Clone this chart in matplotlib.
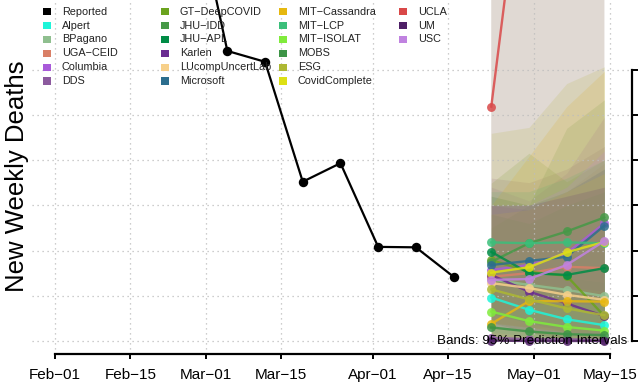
import matplotlib
matplotlib.use("Agg")
import matplotlib.pyplot as plt
import pandas as pd
import numpy as np
from matplotlib.patches import Rectangle

plt.rcParams['font.family'] = ['Liberation Sans', 'DejaVu Sans']

# ---------------- data ----------------
origin = pd.Timestamp("2021-02-01")
tick_dates = ["2021-02-01", "2021-02-15", "2021-03-01", "2021-03-15",
              "2021-04-01", "2021-04-15", "2021-05-01", "2021-05-15"]
tick_labels = ["Feb\u221201", "Feb\u221215", "Mar\u221201", "Mar\u221215",
               "Apr\u221201", "Apr\u221215", "May\u221201", "May\u221215"]
y_ticks = [0, 100, 200, 300, 400, 500, 600]

reported_dates = ["2021-02-19", "2021-02-26", "2021-03-05", "2021-03-12", "2021-03-19",
                  "2021-03-26", "2021-04-02", "2021-04-09", "2021-04-16"]
reported_vals = [1450, 1025, 641, 617, 352, 393, 208, 207, 142]

forecast_dates = ["2021-04-23", "2021-04-30", "2021-05-07", "2021-05-14"]

models = ["Alpert", "BPagano", "UGA\u2212CEID", "Columbia", "DDS",
          "GT\u2212DeepCOVID", "JHU\u2212IDD", "JHU\u2212APL", "Karlen", "LUcompUncertLab",
          "Microsoft", "MIT\u2212Cassandra", "MIT\u2212LCP", "MIT\u2212ISOLAT", "MOBS",
          "ESG", "CovidComplete", "UCLA", "UM", "USC"]
model_colors = ["#1EF5D9", "#8FBF8F", "#D97F66", "#A85AD9", "#8C5A9E",
                "#6BA31E", "#469947", "#008C46", "#6A2C91", "#F7D08A",
                "#2C6E8E", "#E6B80F", "#3BBF7A", "#80EB3B", "#3D9446",
                "#ADB833", "#DDE014", "#D94848", "#4E1F66", "#C082E0"]

point_vals = [
    [96, 69, 48, 35],        # Alpert
    [136, 124, 113, 99],     # BPagano
    [142, 150, 164, 161],    # UGA-CEID
    [157, 168, 194, 260],    # Columbia
    [7, 4, 4, 2],            # DDS
    [179, 153, 144, 55],     # GT-DeepCOVID
    [175, 216, 242, 273],    # JHU-IDD
    [197, 150, 146, 161],    # JHU-APL
    [146, 109, 83, 55],      # Karlen
    [128, 117, 102, 91],     # LUcompUncertLab
    [168, 177, 186, 255],    # Microsoft
    [38, 88, 88, 87],        # MIT-Cassandra
    [218, 216, 218, 216],    # MIT-LCP
    [65, 44, 31, 23],        # MIT-ISOLAT
    [30, 21, 15, 13],        # MOBS
    [114, 92, 72, 57],       # ESG
    [151, 163, 196, 219],    # CovidComplete
    [518, 1180, 1500, 1800], # UCLA
    [1, 0, 0, 0],            # UM
    [135, 137, 168, 221],    # USC
]
lower_vals = [
    [20, 10, 5, 0], [0, 0, 0, 0], [40, 30, 20, 10], [40, 30, 30, 20], [0, 0, 0, 0],
    [40, 20, 0, 0], [40, 30, 20, 10], [60, 40, 20, 10], [40, 20, 0, 0], [0, 0, 0, 0],
    [40, 30, 20, 20], [0, 0, 0, 0], [60, 40, 30, 20], [0, 0, 0, 0], [0, 0, 0, 0],
    [0, 0, 0, 0], [40, 30, 20, 20], [60, 80, 80, 80], [0, 0, 0, 0], [30, 20, 20, 10],
]
upper_vals = [
    [180, 160, 140, 130], [900, 1000, 1100, 1200], [320, 300, 330, 393], [340, 310, 371, 495],
    [360, 350, 380, 430], [349, 415, 352, 400], [250, 300, 470, 533], [320, 300, 330, 380],
    [300, 290, 330, 380], [1000, 1200, 1400, 1600], [900, 1000, 1100, 1200], [300, 408, 518, 596],
    [330, 330, 360, 400], [150, 130, 120, 110], [280, 260, 300, 330], [459, 472, 569, 606],
    [280, 290, 330, 370], [1500, 2500, 3000, 3500], [300, 300, 320, 340], [300, 300, 340, 420],
]
band_alpha_wide = 0.09
band_alpha = 0.16

# legend layout (column-major, as in the reference)
legend_cols = [
    ["Reported", "Alpert", "BPagano", "UGA\u2212CEID", "Columbia", "DDS"],
    ["GT\u2212DeepCOVID", "JHU\u2212IDD", "JHU\u2212APL", "Karlen", "LUcompUncertLab", "Microsoft"],
    ["MIT\u2212Cassandra", "MIT\u2212LCP", "MIT\u2212ISOLAT", "MOBS", "ESG", "CovidComplete"],
    ["UCLA", "UM", "USC"],
]

# ---------------- helpers ----------------
def days(ds):
    return np.array([(pd.Timestamp(d) - origin).days for d in ds], dtype=float)

W, H = 639, 391
fig = plt.figure(figsize=(W / 100, H / 100), dpi=100)
left_px, right_px, bottom_px, top_px = 32, 632, 354, 0
ax = fig.add_axes([left_px / W, 1 - bottom_px / H, (right_px - left_px) / W, (bottom_px - top_px) / H])

px_per_day = 5.386
x0_px = 55.0
ax.set_xlim((left_px - x0_px) / px_per_day, (right_px - x0_px) / px_per_day)
px_per_unit = 45.25 / 100.0
ax.set_ylim((341 - bottom_px) / px_per_unit, (341 - top_px) / px_per_unit)
ymax = ax.get_ylim()[1]

xt = days(tick_dates)
fx = days(forecast_dates)

# grid (drawn over the translucent bands, under the lines)
for xv in xt:
    ax.axvline(xv, color="#BDBDBD", lw=0.9, dashes=(1, 3), zorder=2)
for yv in y_ticks:
    ax.axhline(yv, color="#BDBDBD", lw=0.9, dashes=(1, 3), zorder=2)

# bands
for lo, hi, c in zip(lower_vals, upper_vals, model_colors):
    a = band_alpha_wide if min(hi) > ymax else band_alpha
    ax.fill_between(fx, lo, hi, color=c, alpha=a, lw=0, zorder=1)

# forecast lines
for vals, c in zip(point_vals, model_colors):
    ax.plot(fx, vals, color=c, lw=1.7, marker="o", ms=6.4, mew=0, alpha=0.85, zorder=3)

# reported
ax.plot(days(reported_dates), reported_vals, color="black", lw=1.6, marker="o", ms=6.8,
        mew=0, zorder=4)

# axes styling
for s in ["top", "left"]:
    ax.spines[s].set_visible(False)
ax.spines["bottom"].set_bounds(xt[0], xt[-1])
ax.spines["bottom"].set_linewidth(1.6)
ax.spines["right"].set_bounds(y_ticks[0], y_ticks[-1])
ax.spines["right"].set_linewidth(1.6)
ax.set_xticks(xt)
ax.set_xticklabels(tick_labels, fontsize=11)
ax.tick_params(axis="x", direction="out", length=3.5, width=1.4, pad=6.5)
ax.set_yticks(y_ticks)
ax.yaxis.set_ticks_position("right")
ax.tick_params(axis="y", direction="out", length=4, width=1.4, labelright=False, labelleft=False)
ax.patch.set_alpha(0)

# band note
fig.text(627 / W, 1 - 341 / H, "Bands: 95% Prediction Intervals", ha="right", va="center",
         fontsize=9.6, color="black")

# y label
fig.text(17 / W, 1 - 176.5 / H, "New Weekly Deaths", rotation=90, ha="center", va="center",
         fontsize=18.5, color="black")

# legend (manual)
color_map = dict(zip(models, model_colors))
color_map["Reported"] = "black"
col_sq_x = [43, 161, 279, 399]
row_y0, row_dy = 11.8, 13.85
for ci, col in enumerate(legend_cols):
    for ri, name in enumerate(col):
        cy = row_y0 + ri * row_dy
        fig.patches.append(Rectangle((col_sq_x[ci] / W, 1 - (cy + 3.6) / H), 8 / W, 7.2 / H,
                                     transform=fig.transFigure, facecolor=color_map[name],
                                     edgecolor="none", zorder=5))
        fig.text((col_sq_x[ci] + 19) / W, 1 - cy / H, name, ha="left", va="center",
                 fontsize=7.8, color="#222222", zorder=6)

fig.savefig("out.png", dpi=100)
